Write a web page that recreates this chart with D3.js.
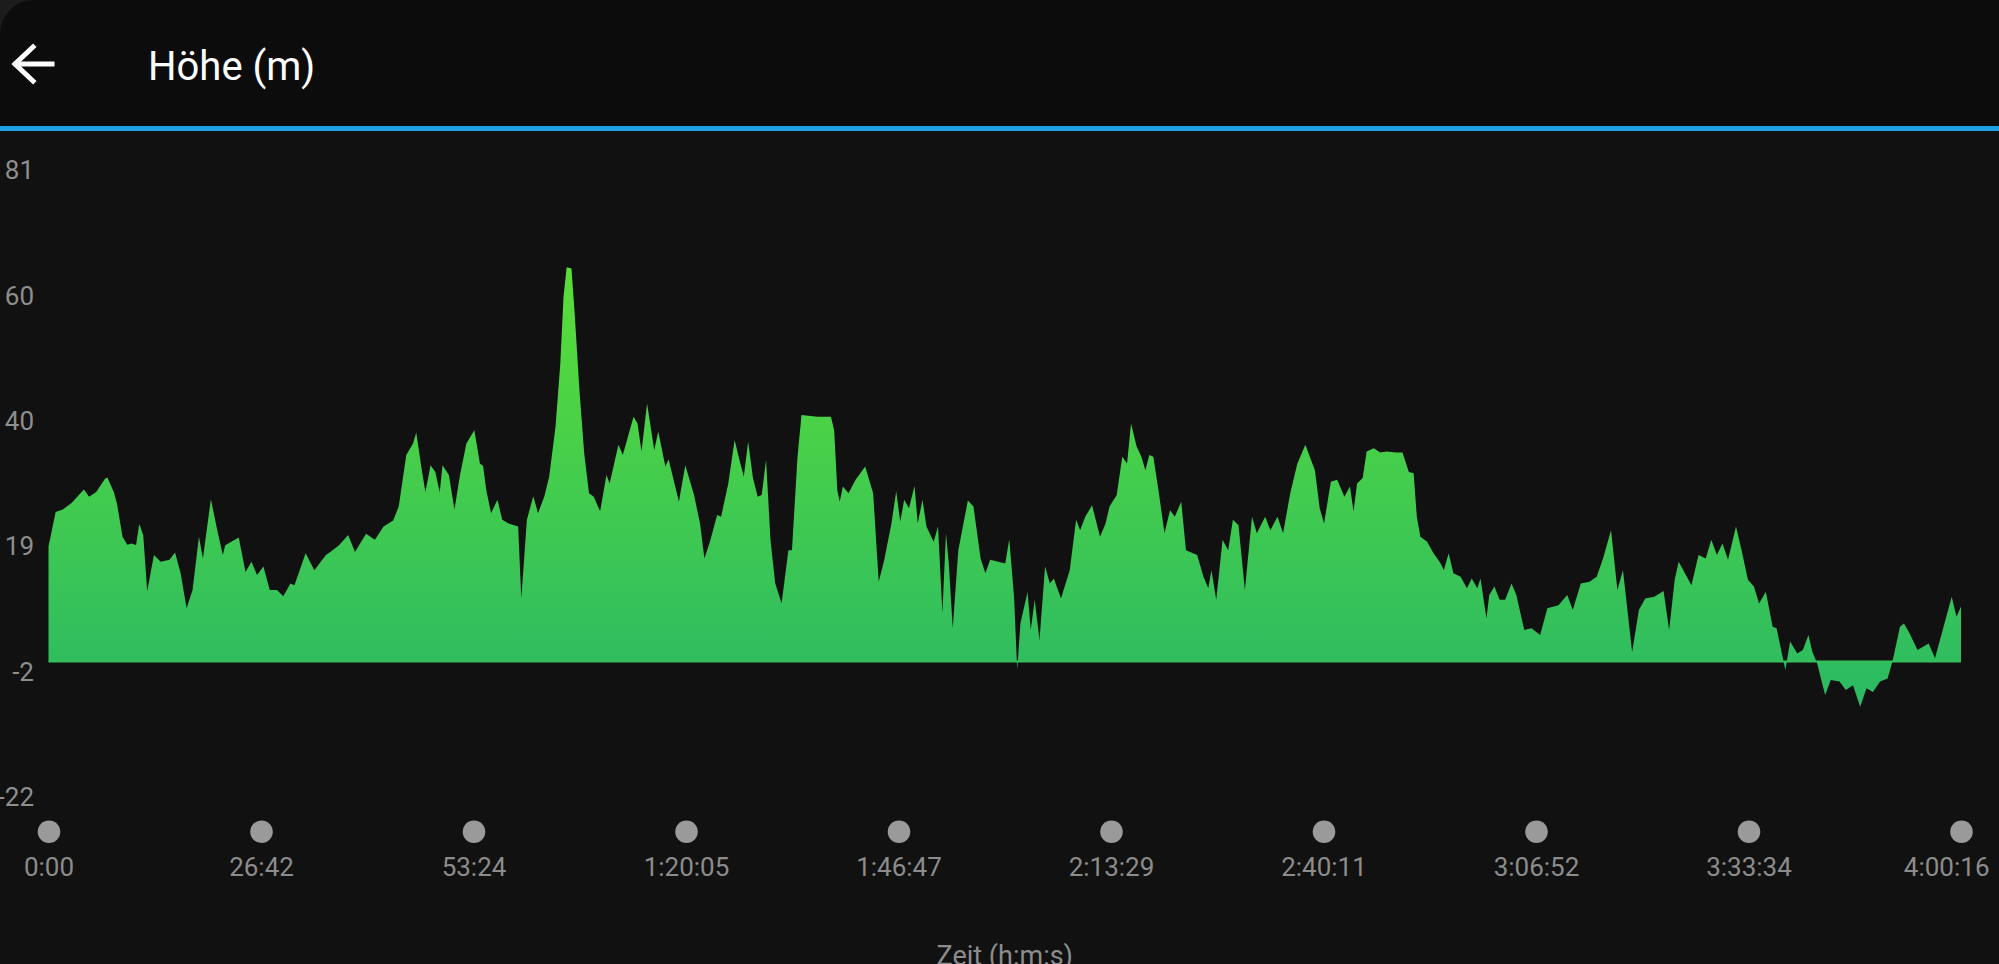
<!DOCTYPE html>
<html>
<head>
<meta charset="utf-8">
<script src="https://cdn.jsdelivr.net/npm/d3@7/dist/d3.min.js"></script>
<style>
  html, body { margin: 0; padding: 0; background: #111111; overflow: hidden; }
  svg { display: block; font-family: Roboto, "Noto Sans", sans-serif; }
</style>
</head>
<body>
<script>
// ---------- DATA ----------
// elapsed time in minutes
const timeMin = [
  0, 0.9, 1.8, 2.9, 4.45, 5.1, 6.0, 7.1, 7.4, 8.2, 8.6, 9.3, 9.9, 10.45, 11.0, 11.4, 11.9, 12.4, 13.25, 14.1,
  15.2, 15.9, 16.6, 17.35, 18.1, 18.9, 19.4, 20.4, 21.2, 21.9, 22.2, 23.9, 24.75, 25.5, 26.2, 27.0, 27.8, 28.7, 29.5, 30.4,
  30.9, 32.3, 33.4, 34.85, 35.4, 36.5, 37.65, 38.5, 39.9, 41.0, 42.1, 43.3, 44.0, 44.95, 45.8, 46.2, 46.9, 47.35, 48.0, 48.6,
  49.15, 49.5, 50.3, 51.0, 51.7, 52.5, 53.5, 54.2, 54.6, 55.0, 55.6, 56.4, 57.0, 57.8, 59.0, 59.4, 60.1, 60.9, 61.5, 62.3,
  62.9, 63.7, 64.3, 64.7, 65.1, 65.7, 66.1, 66.7, 67.3, 67.9, 68.5, 69.3, 70.1, 70.5, 71.6, 72.15, 73.5, 74.0, 74.5, 75.2,
  76.1, 76.6, 77.5, 77.9, 79.2, 80.0, 81.1, 81.85, 82.4, 83.1, 84.0, 84.5, 85.4, 86.2, 86.8, 87.35, 87.9, 88.5, 89.1, 89.6,
  90.15, 90.7, 91.3, 92.1, 92.95, 93.4, 94.1, 94.6, 96.6, 98.3, 98.7, 99.1, 99.4, 99.8, 100.5, 101.4, 102.6, 103.6, 104.3, 105.0,
  105.9, 106.5, 107.0, 107.5, 108.1, 108.8, 109.2, 109.8, 110.3, 111.2, 111.75, 112.3, 112.75, 113.1, 113.6, 114.3, 115.5, 116.2, 117.1, 117.7,
  118.3, 120.2, 120.7, 121.3, 121.7, 122.1, 123.0, 123.4, 123.9, 124.5, 125.2, 125.8, 126.3, 127.2, 128.3, 129.1, 129.6, 130.25, 131.1, 132.1,
  132.8, 133.3, 134.2, 134.9, 135.5, 136.0, 136.7, 137.3, 137.8, 138.3, 138.8, 139.5, 140.2, 140.9, 141.5, 142.3, 142.9, 144.3, 145.1, 145.7,
  146.1, 146.7, 147.5, 148.2, 148.8, 149.5, 150.3, 151.2, 151.8, 152.85, 153.5, 154.4, 155.1, 156.0, 156.9, 157.9, 158.6, 159.1, 159.7, 160.25,
  161.1, 161.9, 162.8, 163.5, 163.95, 164.4, 165.1, 165.6, 166.5, 167.3, 168.1, 169.3, 170.1, 170.9, 171.5, 171.9, 172.35, 173.2, 174.0, 174.9,
  175.3, 175.9, 176.5, 177.4, 178.2, 178.8, 179.5, 179.9, 180.65, 181.0, 181.65, 182.3, 183.0, 183.8, 184.4, 185.4, 186.3, 187.4, 188.3, 189.7,
  190.8, 191.5, 192.5, 193.6, 194.5, 195.3, 196.3, 197.1, 197.8, 198.95, 199.8, 200.6, 201.75, 202.9, 203.6, 204.3, 204.8, 206.4, 207.3, 208.2,
  208.9, 209.6, 210.3, 211.0, 212.0, 212.7, 213.5, 214.25, 214.9, 215.75, 216.6, 217.1, 218.2, 218.8, 219.7, 220.4, 221.1, 221.6, 222.2, 223.2,
  223.9, 225.0, 225.8, 226.7, 227.6, 228.4, 229.2, 230.1, 231.05, 231.7, 232.6, 233.1, 233.8, 234.8, 236.2, 237.0, 237.9, 239.1, 239.7, 240.27
];
// elevation in metres
const elevation = [
  17.3, 23.0, 23.4, 24.5, 26.7, 25.5, 26.3, 28.5, 28.7, 26.3, 24.4, 18.9, 17.6, 17.8, 17.5, 21.0, 19.2, 9.9, 15.9, 14.8,
  15.1, 16.3, 12.9, 7.1, 10.1, 18.9, 15.3, 25.1, 20.0, 15.9, 17.5, 18.8, 13.1, 14.8, 12.6, 14.0, 10.1, 10.1, 9.1, 11.2,
  10.9, 16.2, 13.4, 15.9, 16.4, 17.5, 19.2, 16.4, 19.4, 18.4, 20.6, 21.6, 23.9, 32.4, 34.3, 36.1, 29.9, 26.3, 30.7, 29.6,
  26.2, 30.7, 29.1, 23.4, 29.1, 34.3, 36.5, 31.0, 30.6, 26.6, 22.8, 25.0, 21.7, 21.1, 20.6, 8.7, 21.7, 25.6, 22.8, 25.6,
  28.8, 37.1, 47.5, 58.5, 63.4, 63.2, 55.8, 43.1, 32.7, 26.1, 25.5, 23.1, 29.1, 27.7, 34.1, 32.4, 38.7, 37.6, 33.0, 40.9,
  33.2, 36.3, 30.5, 31.7, 24.7, 30.7, 25.8, 21.1, 15.3, 18.1, 22.5, 22.2, 27.7, 34.9, 31.6, 28.8, 34.6, 28.6, 25.5, 25.8,
  31.6, 18.4, 11.2, 7.9, 16.7, 16.7, 32.1, 39.0, 38.7, 38.7, 36.5, 26.6, 24.7, 27.2, 26.1, 28.3, 30.5, 26.1, 11.5, 15.1,
  21.1, 26.4, 21.4, 25.0, 23.6, 27.3, 21.1, 25.0, 20.6, 18.1, 20.6, 6.3, 19.5, 14.5, 3.8, 16.7, 24.9, 23.9, 15.3, 12.9,
  15.1, 14.5, 18.5, 9.0, -3.1, 4.6, 9.8, 3.5, 8.5, 1.85, 14.0, 11.2, 12.0, 8.7, 13.4, 21.7, 20.0, 22.2, 24.1, 18.9,
  21.1, 23.9, 25.8, 32.1, 31.0, 37.6, 33.8, 32.1, 29.9, 32.4, 32.1, 26.1, 19.5, 23.3, 22.2, 24.7, 16.7, 15.9, 12.3, 10.4,
  13.4, 8.5, 18.4, 16.7, 21.7, 20.8, 10.1, 22.2, 19.5, 22.2, 20.0, 22.2, 19.5, 26.1, 31.0, 34.1, 31.6, 29.9, 23.6, 21.1,
  28.0, 28.3, 25.5, 27.2, 23.1, 27.7, 28.6, 33.0, 33.5, 32.8, 33.0, 32.8, 32.8, 29.6, 29.4, 22.2, 18.9, 18.1, 16.2, 14.5,
  13.4, 16.2, 12.9, 12.3, 10.4, 12.0, 10.4, 12.0, 5.4, 9.3, 10.7, 8.5, 8.5, 11.2, 9.3, 3.5, 3.8, 2.7, 7.1, 7.6,
  9.3, 6.8, 11.2, 11.5, 12.3, 15.3, 20.0, 10.1, 13.4, -0.1, 6.8, 8.7, 9.0, 9.95, 3.5, 11.8, 14.8, 10.9, 15.9, 15.3,
  18.4, 15.9, 17.8, 15.1, 20.6, 16.7, 11.8, 10.7, 7.9, 9.85, 4.05, 3.8, -3.1, 1.6, -0.35, 0.2, 2.7, -0.1, -2.0, -7.2,
  -4.75, -5.0, -6.4, -5.6, -9.15, -6.1, -6.7, -5.0, -4.5, -1.45, 4.05, 4.6, 3.0, 0.2, 1.3, -1.15, 3.2, 9.0, 5.7, 7.4
];
const yTickLabels = ["81", "60", "40", "19", "-2", "-22"];
const yDomainMin = -22.4;
const yDomainMax = 81.1;
const xTickLabels = ["0:00", "26:42", "53:24", "1:20:05", "1:46:47", "2:13:29", "2:40:11", "3:06:52", "3:33:34", "4:00:16"];
const totalMinutes = 240 + 16 / 60;
const titleText = "Höhe (m)";
const xAxisTitle = "Zeit (h:m:s)";

// ---------- CHART ----------
const W = 1999, H = 964;
const svg = d3.select("body").append("svg").attr("width", W).attr("height", H);

svg.append("rect").attr("width", W).attr("height", H).attr("fill", "#111111");
// header
svg.append("rect").attr("width", W).attr("height", 126).attr("fill", "#0c0c0c");
// rounded screen corner
svg.append("path").attr("d", "M0,0 L34,0 A34,34 0 0 0 0,34 Z").attr("fill", "#1c1c1c");

// back arrow
const arrow = svg.append("g").attr("stroke", "#ffffff").attr("stroke-width", 5)
  .attr("fill", "none").attr("stroke-linecap", "square");
arrow.append("line").attr("x1", 16).attr("y1", 64).attr("x2", 52).attr("y2", 64);
arrow.append("polyline").attr("points", "33,47 15,64 33,81").attr("stroke-linejoin", "miter");

svg.append("text").attr("x", 148).attr("y", 80).attr("fill", "#ffffff")
  .attr("font-size", 40).attr("font-weight", 400).text(titleText);

// blue separator
svg.append("rect").attr("x", 0).attr("y", 126).attr("width", W).attr("height", 5).attr("fill", "#1da1e2");

const x = d3.scaleLinear().domain([0, totalMinutes]).range([48.5, 1961]);
const y = d3.scaleLinear().domain([yDomainMin, yDomainMax]).range([787, 160]);

const yStep = (yDomainMax - yDomainMin) / (yTickLabels.length - 1);
const yTickVals = yTickLabels.map((_, i) => yDomainMax - i * yStep);
const baselineVal = yTickVals[4];

const data = timeMin.map((t, i) => ({ t: t, v: elevation[i] }));

// gradient
const defs = svg.append("defs");
const grad = defs.append("linearGradient").attr("id", "g").attr("gradientUnits", "userSpaceOnUse")
  .attr("x1", 0).attr("x2", 0).attr("y1", y(yDomainMax)).attr("y2", y(yDomainMin));
grad.append("stop").attr("offset", 0).attr("stop-color", "#66e72d");
grad.append("stop").attr("offset", 1).attr("stop-color", "#22b36c");

const area = d3.area()
  .x(d => x(d.t))
  .y0(y(baselineVal))
  .y1(d => y(d.v))
  .curve(d3.curveLinear);

svg.append("path").datum(data).attr("d", area).attr("fill", "url(#g)");

// baseline
svg.append("line").attr("x1", x(0)).attr("x2", x(totalMinutes))
  .attr("y1", y(baselineVal)).attr("y2", y(baselineVal))
  .attr("stroke", "#38c05c").attr("stroke-width", 2);

// y axis
const yAxis = d3.axisLeft(y).tickValues(yTickVals)
  .tickFormat((d, i) => yTickLabels[i]).tickSize(0).tickPadding(0);
const yg = svg.append("g").attr("transform", "translate(34,0)").call(yAxis);
yg.select(".domain").remove();
yg.selectAll("text").attr("fill", "#8e8e8e").attr("font-size", 26)
  .attr("font-family", "Roboto, sans-serif").attr("dy", "0.72em");

// x axis
const xTickVals = xTickLabels.map((_, i) => i * totalMinutes / (xTickLabels.length - 1));
const xAxis = d3.axisBottom(x).tickValues(xTickVals)
  .tickFormat((d, i) => xTickLabels[i]).tickSize(0).tickPadding(0);
const xg = svg.append("g").attr("transform", "translate(0,831.7)").call(xAxis);
xg.select(".domain").remove();
xg.selectAll(".tick").append("circle").attr("r", 11.3).attr("cx", 0).attr("cy", 0).attr("fill", "#9a9a9a");
xg.selectAll("text").attr("fill", "#8c8c8c").attr("font-size", 26)
  .attr("font-family", "Roboto, sans-serif").attr("y", 44.5).attr("dy", 0);
xg.selectAll(".tick").filter((d, i) => i === xTickLabels.length - 1)
  .select("text").attr("text-anchor", "end").attr("x", 28);

svg.append("text").attr("x", (x(0) + x(totalMinutes)) / 2).attr("y", 965)
  .attr("text-anchor", "middle").attr("fill", "#8c8c8c").attr("font-size", 27).text(xAxisTitle);
</script>
</body>
</html>
